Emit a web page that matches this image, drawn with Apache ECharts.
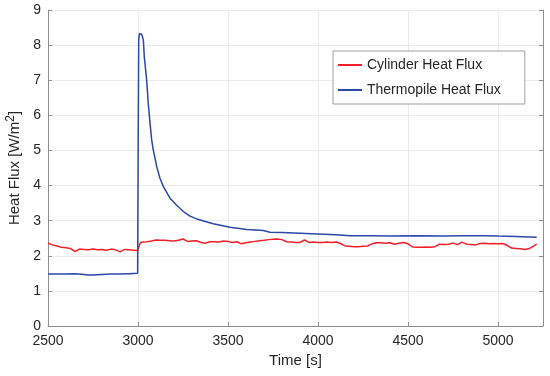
<!DOCTYPE html>
<html>
<head>
<meta charset="utf-8">
<script src="https://cdn.jsdelivr.net/npm/echarts@6/dist/echarts.min.js"></script>
<style>html,body{margin:0;padding:0;background:#fff}#c{width:550px;height:376px}</style>
</head>
<body>
<div id="c"></div>
<script>
const xTicks = [2500, 3000, 3500, 4000, 4500, 5000];
const yTicks = [0, 1, 2, 3, 4, 5, 6, 7, 8, 9];

const cylTime = [2500,2525,2550,2575,2600,2625,2650,2675,2700,2725,2750,2775,2800,2825,2850,2875,2900,2925,2950,2975,2998,
  3004,3013,3025,3050,3075,3100,3125,3150,3175,3200,3225,3250,3275,3300,3325,3350,3375,3400,3425,3450,3475,3500,
  3525,3550,3575,3600,3625,3650,3675,3700,3725,3750,3775,3800,3825,3850,3875,3900,3925,3950,3975,4000,
  4025,4050,4075,4100,4125,4150,4175,4200,4225,4250,4275,4300,4325,4350,4375,4400,4425,4450,4475,4500,
  4525,4550,4575,4600,4625,4650,4675,4700,4725,4750,4775,4800,4825,4850,4875,4900,4925,4950,4975,5000,
  5025,5050,5075,5100,5125,5150,5175,5200,5215];
const cylFlux = [2.36,2.31,2.28,2.24,2.23,2.21,2.12,2.19,2.18,2.17,2.19,2.17,2.18,2.16,2.19,2.17,2.11,2.18,2.17,2.16,2.15,
  2.18,2.37,2.39,2.40,2.42,2.45,2.44,2.44,2.43,2.42,2.44,2.48,2.41,2.42,2.43,2.38,2.36,2.40,2.40,2.39,2.42,2.41,
  2.38,2.40,2.34,2.37,2.39,2.41,2.43,2.44,2.46,2.47,2.48,2.46,2.40,2.39,2.38,2.38,2.45,2.38,2.39,2.38,
  2.38,2.39,2.38,2.39,2.35,2.28,2.27,2.26,2.26,2.27,2.28,2.34,2.37,2.37,2.36,2.37,2.33,2.36,2.38,2.34,
  2.25,2.24,2.24,2.25,2.24,2.26,2.33,2.32,2.33,2.36,2.32,2.39,2.33,2.32,2.31,2.35,2.36,2.34,2.35,2.34,
  2.35,2.30,2.22,2.21,2.20,2.18,2.21,2.28,2.33];

const thermoTime = [2500,2550,2600,2650,2700,2725,2750,2800,2850,2900,2950,2998,3001,3004,3008,3015,3020,3026,3030,3035,3048,3057,
  3067,3076,3085,3104,3122,3141,3178,3215,3252,3289,3326,3418,3511,3604,3696,3733,3800,3900,4000,4100,4178,
  4300,4400,4548,4700,4800,4917,5000,5100,5215];
const thermoFlux = [1.48,1.48,1.48,1.49,1.47,1.45,1.45,1.47,1.48,1.48,1.49,1.50,5.20,8.15,8.33,8.34,8.31,8.22,8.12,7.67,7.01,6.34,
  5.77,5.30,5.01,4.54,4.21,3.97,3.64,3.44,3.26,3.13,3.05,2.91,2.81,2.75,2.72,2.67,2.66,2.64,2.62,2.60,2.57,
  2.57,2.56,2.57,2.56,2.57,2.57,2.56,2.55,2.53];

const seriesNames = ['Cylinder Heat Flux', 'Thermopile Heat Flux'];

const pair = (t, v) => t.map((x, i) => [x, v[i]]);
const axisGray = '#8e8e8e';
const textColor = '#262626';
const font = 'Liberation Sans, Arial, sans-serif';

const chart = echarts.init(document.getElementById('c'), null, {renderer: 'canvas'});
chart.setOption({
  animation: false,
  backgroundColor: '#fff',
  grid: {left: 48, right: 7, top: 10, bottom: 50, containLabel: false, outerBoundsMode: 'none'},
  legend: {
    orient: 'vertical', left: 333, top: 51,
    data: seriesNames,
    icon: 'rect', itemWidth: 24, itemHeight: 2, itemGap: 9,
    padding: [6, 24, 6, 5],
    borderColor: '#a0a0a0', borderWidth: 1, backgroundColor: '#fff',
    textStyle: {fontFamily: font, fontSize: 14, color: textColor, lineHeight: 16}
  },
  xAxis: [{
    type: 'value', min: 2500, max: 5250, interval: 500,
    name: 'Time [s]', nameLocation: 'middle', nameGap: 21,
    nameTextStyle: {fontFamily: font, fontSize: 15, color: textColor},
    axisLine: {show: true, lineStyle: {color: axisGray, width: 1}},
    axisTick: {show: true, inside: true, length: 4, lineStyle: {color: axisGray}},
    axisLabel: {fontFamily: font, fontSize: 14, color: textColor, margin: 8,
      formatter: v => (xTicks.indexOf(v) >= 0 ? String(v) : '')},
    splitLine: {show: true, lineStyle: {color: '#ebebeb', width: 1}}
  }],
  yAxis: [{
    type: 'value', min: 0, max: 9, interval: 1,
    name: 'Heat Flux [W/m{sup|2}]', nameLocation: 'middle', nameGap: 20,
    nameTextStyle: {fontFamily: font, fontSize: 15, color: textColor,
      rich: {sup: {fontSize: 12, verticalAlign: 'top', padding: [0, 0, 9, 0], fontFamily: font, color: textColor}}},
    axisLine: {show: true, lineStyle: {color: axisGray, width: 1}},
    axisTick: {show: true, inside: true, length: 4, lineStyle: {color: axisGray}},
    axisLabel: {fontFamily: font, fontSize: 14, color: textColor, margin: 7,
      formatter: v => (yTicks.indexOf(v) >= 0 ? String(v) : '')},
    splitLine: {show: true, lineStyle: {color: '#ebebeb', width: 1}}
  }, {
    type: 'value', min: 0, max: 9, interval: 1, position: 'right',
    axisLine: {show: true, onZero: false, lineStyle: {color: axisGray, width: 1}},
    axisTick: {show: true, inside: true, length: 4, lineStyle: {color: axisGray}},
    axisLabel: {show: false},
    splitLine: {show: false}
  }],
  series: [{
    name: seriesNames[0], type: 'line', data: pair(cylTime, cylFlux),
    showSymbol: false, symbol: 'none', lineStyle: {color: '#f0202a', width: 1.5}, itemStyle: {color: '#f0202a'}, z: 3
  }, {
    name: seriesNames[1], type: 'line', data: pair(thermoTime, thermoFlux),
    showSymbol: false, symbol: 'none', lineStyle: {color: '#2b48a8', width: 1.5}, itemStyle: {color: '#2b48a8'}, z: 4
  }]
});
</script>
</body>
</html>
